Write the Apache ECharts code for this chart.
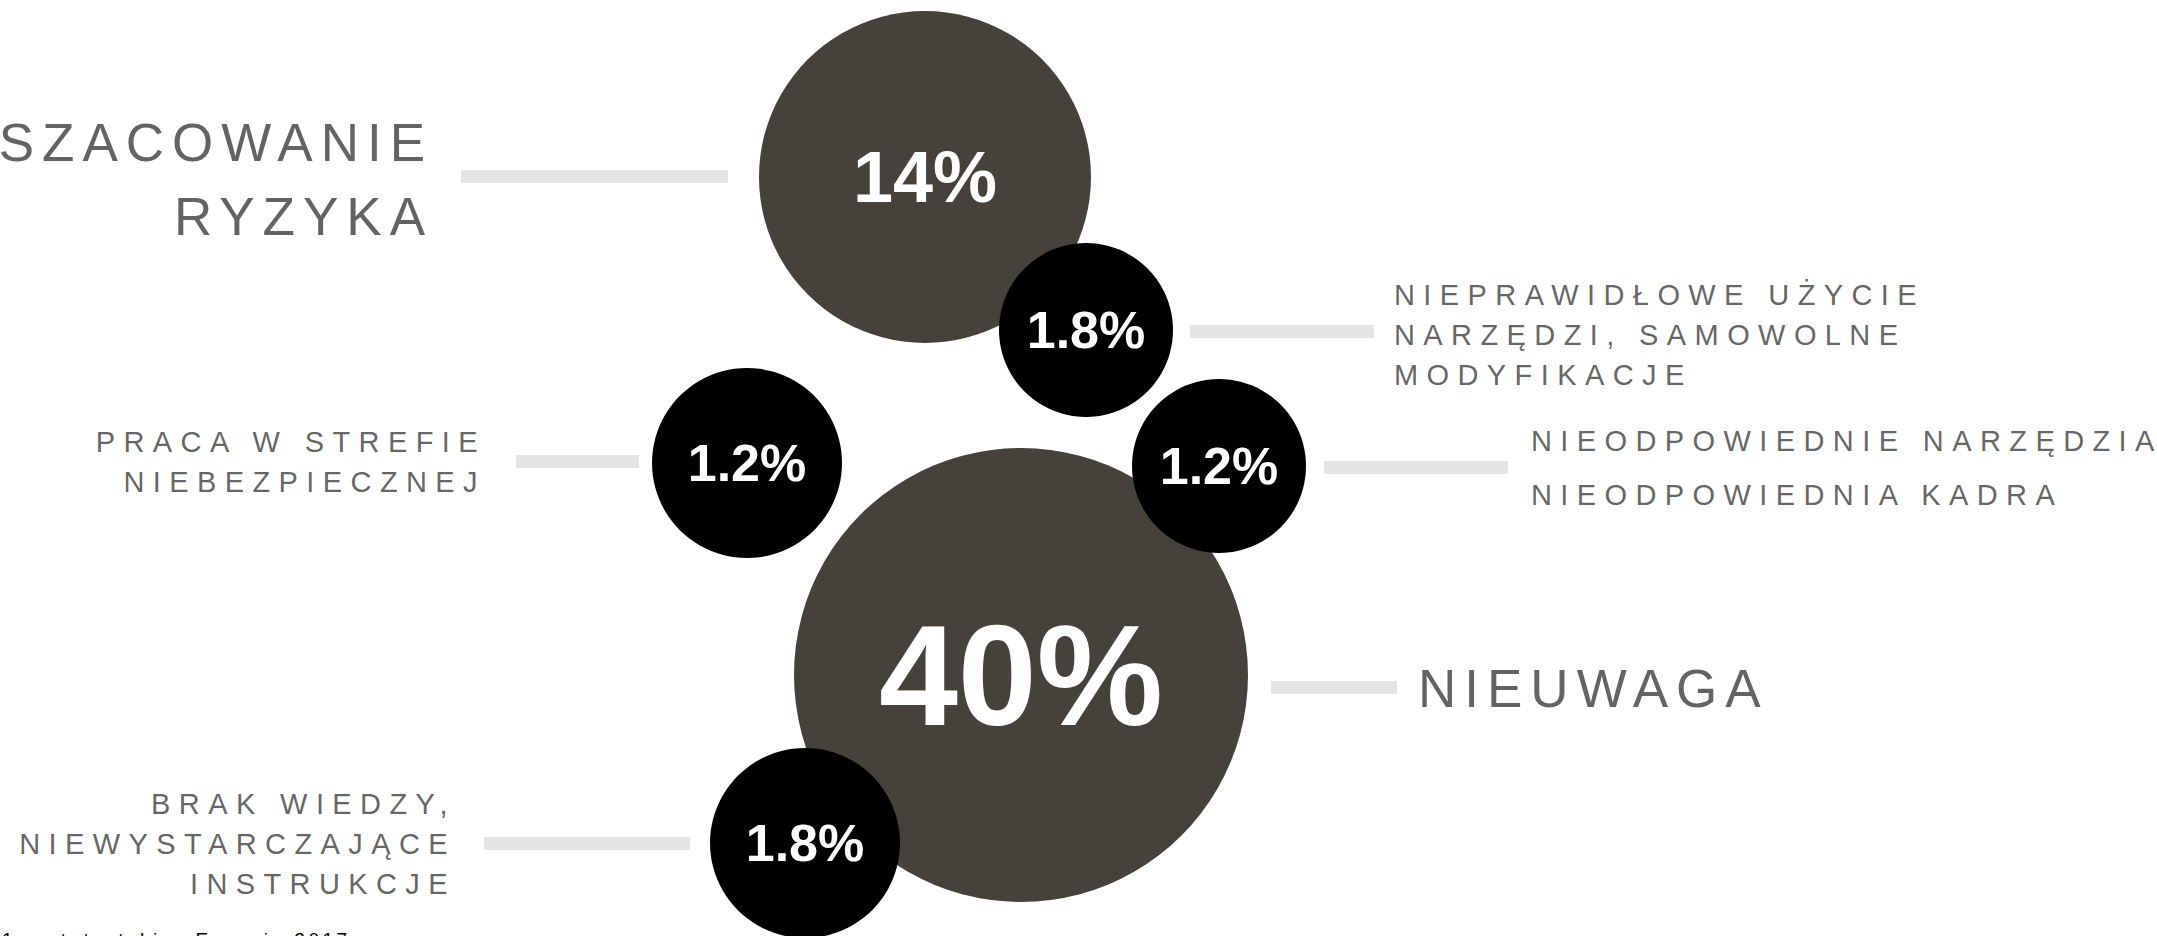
<!DOCTYPE html>
<html lang="pl">
<head>
<meta charset="utf-8">
<title>Przyczyny wypadków</title>
<script src="https://cdn.jsdelivr.net/npm/echarts@6.0.0/dist/echarts.min.js"></script>
<style>
  html, body { margin: 0; padding: 0; background: #ffffff; }
  #chart { width: 2157px; height: 936px; overflow: hidden; }
</style>
</head>
<body>
<div id="chart"></div>
<script>
// ---------- DATA ----------
const causes = [
  'SZACOWANIE\nRYZYKA',
  'NIEPRAWIDŁOWE UŻYCIE\nNARZĘDZI, SAMOWOLNE\nMODYFIKACJE',
  'PRACA W STREFIE\nNIEBEZPIECZNEJ',
  'NIEODPOWIEDNIE NARZĘDZIA\nNIEODPOWIEDNIA KADRA',
  'NIEUWAGA',
  'BRAK WIEDZY,\nNIEWYSTARCZAJĄCE\nINSTRUKCJE'
];
const shares = [14, 1.8, 1.2, 1.2, 40, 1.8];
const footnote = '1 – statystyki w Europie 2017 r.';

// ---------- LAYOUT (positions / sizes / styles) ----------
const bubbleX = [925, 1086, 747, 1219, 1021, 805];
const bubbleY = [177, 330, 463, 466, 675, 843];
const bubbleD = [332, 174, 190, 174, 454, 190];
const valueFont = [72, 52, 52, 52, 142, 52];
const labelX = [433, 1394, 486, 1531, 1418, 456];
const labelY = [179, 334.5, 462, 468, 688, 843.5];
const labelSide = ['left', 'right', 'left', 'right', 'right', 'left'];
const labelFont = [53, 29, 29, 29, 53, 29];
const labelLH = [74, 40, 40, 54, 74, 40];
const barX1 = [461, 1190, 516, 1324, 1271, 484];
const barX2 = [728, 1374, 639, 1508, 1397, 690];
const barY = [176.5, 331.5, 461.5, 467.5, 687.5, 843.5];

const DARK = '#46413a';
const BLACK = '#000000';
const TEXT = '#3c3c3c';
const BAR = '#e4e4e4';
const FONT = '"Liberation Sans", Arial, Helvetica, sans-serif';

function bubbleItem(i) {
  return {
    value: [bubbleX[i], bubbleY[i], shares[i]],
    symbolSize: bubbleD[i],
    label: { fontSize: valueFont[i] }
  };
}
const idx = shares.map((_, i) => i);
const majorData = idx.filter(i => shares[i] >= 10).map(bubbleItem);
const minorData = idx.filter(i => shares[i] < 10).map(bubbleItem);

const bubbleLabel = {
  show: true,
  position: 'inside',
  color: '#ffffff',
  fontFamily: FONT,
  fontWeight: 'bold',
  formatter: p => p.value[2] + '%'
};

const chart = echarts.init(document.getElementById('chart'), null, { renderer: 'svg', width: 2157, height: 936 });

chart.setOption({
  animation: false,
  backgroundColor: '#ffffff',
  grid: { left: 0, right: 0, top: 0, bottom: 0, containLabel: false },
  xAxis: { type: 'value', min: 0, max: 2157, show: false },
  yAxis: { type: 'value', min: 0, max: 936, inverse: true, show: false },
  tooltip: { show: false },
  series: [
    {
      type: 'lines',
      coordinateSystem: 'cartesian2d',
      silent: true,
      symbol: 'none',
      lineStyle: { color: BAR, width: 13, opacity: 1, cap: 'butt' },
      data: idx.map(i => ({ coords: [[barX1[i], barY[i]], [barX2[i], barY[i]]] }))
    },
    {
      type: 'scatter',
      silent: true,
      itemStyle: { color: DARK, opacity: 1 },
      label: bubbleLabel,
      data: majorData,
      z: 3
    },
    {
      type: 'scatter',
      silent: true,
      itemStyle: { color: BLACK, opacity: 1 },
      label: bubbleLabel,
      data: minorData,
      z: 4
    },
    {
      type: 'scatter',
      silent: true,
      symbolSize: 0,
      itemStyle: { color: 'transparent' },
      z: 5,
      data: idx.map(i => ({
        value: [labelX[i], labelY[i]],
        label: {
          show: true,
          position: labelSide[i],
          distance: 0,
          formatter: causes[i],
          color: TEXT,
          fontFamily: FONT,
          fontSize: labelFont[i],
          lineHeight: labelLH[i],
          align: labelSide[i] === 'left' ? 'right' : 'left',
          verticalAlign: 'middle'
        }
      }))
    }
  ],
  graphic: [
    {
      type: 'text',
      left: 2,
      top: 930,
      silent: true,
      style: {
        text: footnote,
        fill: '#000000',
        font: '19px ' + FONT
      }
    }
  ]
});

function spaceOut() {
  document.querySelectorAll('#chart svg text').forEach(t => {
    const s = t.textContent || '';
    if (s.indexOf('%') !== -1) { t.style.letterSpacing = '0px'; return; }
    if (s.indexOf('statystyki') !== -1) { t.style.letterSpacing = '3.5px'; return; }
    const fs = parseFloat(getComputedStyle(t).fontSize) || 29;
    t.style.letterSpacing = fs > 40 ? '8px' : '8.4px';
  });
}
spaceOut();
chart.on('finished', spaceOut);
setTimeout(spaceOut, 0);
setTimeout(spaceOut, 100);
</script>
</body>
</html>
